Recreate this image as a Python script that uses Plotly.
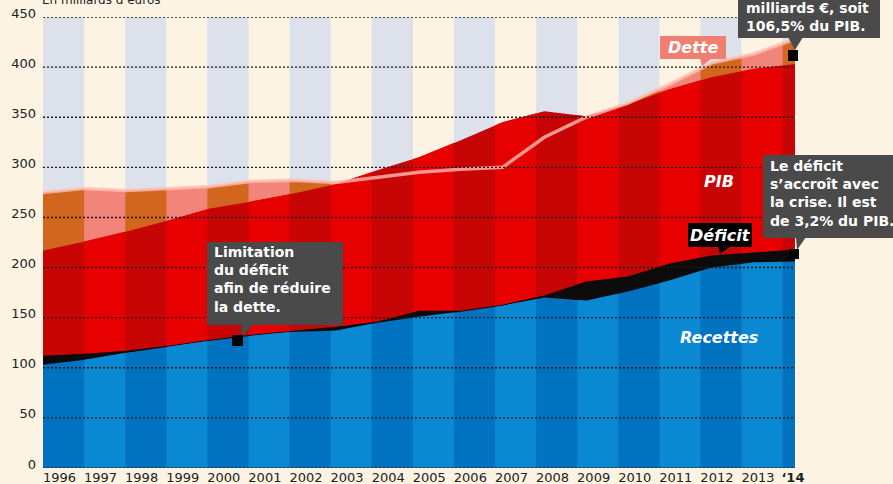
import numpy as np
import plotly.graph_objects as go

# ---------------- data (milliards d'euros) ----------------
years = list(range(1996, 2015))
year_labels = [str(y) for y in range(1996, 2014)] + ["‘14"]
dette = [275, 279, 277, 279, 281, 286, 287, 285, 290, 295, 298, 300, 330, 350, 364, 383, 404, 413, 428]
pib = [217, 226, 236, 247, 259, 266, 274, 283, 297, 310, 327, 345, 356, 351, 363, 378, 390, 398, 403]
recettes = [103, 108, 115, 121, 127, 132, 136, 137, 145, 151, 156, 162, 170, 167, 176, 187, 200, 205, 206]
deficit = [9, 6, 2, 1, 1, 1, 1, 4, 1, 6, 1, 1, 2, 19, 15, 17, 12, 10, 12]
y_ticks = list(range(0, 451, 50))

# ---------------- style ----------------
FONT = "DejaVu Sans"
BG = "#fcf3e3"
BG_COL = "#dce1eb"
ORANGE, SALMON = "#d3661f", "#f1857a"
RED_D, RED_L = "#c80505", "#e60000"
BLUE_D, BLUE_L = "#0072bf", "#0a88d2"
BLACK = "#0b0b0b"
BOX = "#4a4a4a"

W, H = 893, 484
L, R, T, B = 43, 795, 17, 468
n = len(years)
SPAN = 18.3                      # last (2014) column is a short stub
xp = np.array([i * SPAN / (n - 1) for i in range(n)])
col_bounds = [(c, min(c + 1, SPAN)) for c in range(n)]

depenses = [r + d for r, d in zip(recettes, deficit)]


def px(xp_):
    return (xp_ - L) / (R - L)


def py(yp_):
    return (B - yp_) / (B - T)


def column_poly(series, a, b):
    xs = [a] + [x for x in xp if a < x < b] + [b]
    ys = np.interp(xs, xp, series)
    return xs, list(ys)


fig = go.Figure()


def add_layer(series, dark, light):
    fig.add_trace(go.Scatter(x=xp, y=series, mode="lines", line=dict(width=0),
                             fill="tozeroy", fillcolor=dark, hoverinfo="skip", showlegend=False))
    for c, (a, b) in enumerate(col_bounds):
        if c % 2 == 1:
            xs, ys = column_poly(series, a, b)
            fig.add_trace(go.Scatter(x=xs, y=ys, mode="lines", line=dict(width=0),
                                     fill="tozeroy", fillcolor=light, hoverinfo="skip",
                                     showlegend=False))


add_layer(dette, ORANGE, SALMON)
add_layer(pib, RED_D, RED_L)
fig.add_trace(go.Scatter(x=xp, y=depenses, mode="lines", line=dict(width=0),
                         fill="tozeroy", fillcolor=BLACK, hoverinfo="skip", showlegend=False))
add_layer(recettes, BLUE_D, BLUE_L)
fig.add_trace(go.Scatter(x=xp, y=dette, mode="lines",
                         line=dict(color="rgba(255,192,182,0.78)", width=3.5),
                         hoverinfo="skip", showlegend=False))

shapes = []
# background column shading
for c, (a, b) in enumerate(col_bounds):
    if c % 2 == 0:
        shapes.append(dict(type="rect", xref="x", yref="y", x0=a, x1=b, y0=0, y1=y_ticks[-1],
                           fillcolor=BG_COL, line=dict(width=0), layer="below"))
# dotted gridlines
for v in y_ticks:
    shapes.append(dict(type="line", xref="x", yref="y", x0=0, x1=SPAN, y0=v, y1=v,
                       line=dict(color="#1c1c1c", width=1.4, dash="2px,2px"), layer="above"))


def box(x0, y0, x1, y1, color):
    shapes.append(dict(type="rect", xref="paper", yref="paper", x0=px(x0), x1=px(x1),
                       y0=py(y1), y1=py(y0), fillcolor=color, line=dict(width=0), layer="above"))


def tri(pts, color):
    path = "M " + " L ".join(f"{px(a):.5f},{py(b):.5f}" for a, b in pts) + " Z"
    shapes.append(dict(type="path", xref="paper", yref="paper", path=path,
                       fillcolor=color, line=dict(width=0), layer="above"))


# callout boxes
box(207, 242, 343, 325, BOX)
tri([(241, 324), (254, 324), (242, 337)], BOX)
box(232, 335, 243, 346, "#000000")

box(763, 155, 893, 238, BOX)
tri([(796, 237), (806, 237), (797, 250)], BOX)
box(789, 249, 799, 259, "#000000")

box(738, -20, 880, 38, BOX)
tri([(788, 37), (803, 37), (795, 50)], BOX)
box(788, 50, 798, 61, "#000000")

box(660, 36, 726, 59, "#f07f72")
tri([(700, 58), (712, 58), (702, 66)], "#f07f72")

box(688, 223, 752, 247, "#000000")
tri([(718, 246), (731, 246), (720, 254)], "#000000")

annotations = []


def text(x, y, s, size=14, bold=True, italic=False, color="white", anchor="left"):
    t = s
    if bold:
        t = f"<b>{t}</b>"
    if italic:
        t = f"<i>{t}</i>"
    annotations.append(dict(xref="paper", yref="paper", x=px(x), y=py(y), text=t,
                            showarrow=False, xanchor=anchor, yanchor="middle", align="left",
                            borderpad=0, font=dict(family=FONT, size=size, color=color)))


text(213, 279, "<br>".join(["Limitation", "du déficit", "afin de réduire", "la dette."]))
text(769, 193, "<br>".join(["Le déficit", "s’accroît avec", "la crise. Il est", "de 3,2% du PIB."]))
text(745, 17.5, "<br>".join(["milliards €, soit", "106,5% du PIB."]))

text(693, 47, "Dette", size=16, italic=True, anchor="center")
text(719, 181, "PIB", size=16, italic=True, anchor="center")
text(720, 235, "Déficit", size=16, italic=True, anchor="center")
text(719, 338, "Recettes", size=16, italic=True, anchor="center")
text(41, 0, "En milliards d’euros", size=12, bold=False, color="#222222")

tickvals_x = [c + 0.4 for c in range(n - 1)] + [SPAN - 0.05]
ticktext_x = year_labels[:-1] + [f"<b>{year_labels[-1]}</b>"]

fig.update_layout(
    width=W, height=H,
    margin=dict(l=L, r=W - R, t=T, b=H - B, autoexpand=False),
    paper_bgcolor=BG, plot_bgcolor=BG,
    font=dict(family=FONT, size=13, color="#222222"),
    shapes=shapes, annotations=annotations, showlegend=False,
    xaxis=dict(range=[0, SPAN], showgrid=False, zeroline=False, showline=False,
               tickvals=tickvals_x, ticktext=ticktext_x, ticks="", fixedrange=True,
               automargin=False, tickfont=dict(size=13, color="#222222")),
    yaxis=dict(range=[0, 450], showgrid=False, zeroline=False, showline=False,
               tickvals=y_ticks, ticks="", ticklabelstandoff=6, ticklabelshift=-4,
               automargin=False, tickfont=dict(size=13, color="#222222"), fixedrange=True),
)

fig.write_html("out.html")
